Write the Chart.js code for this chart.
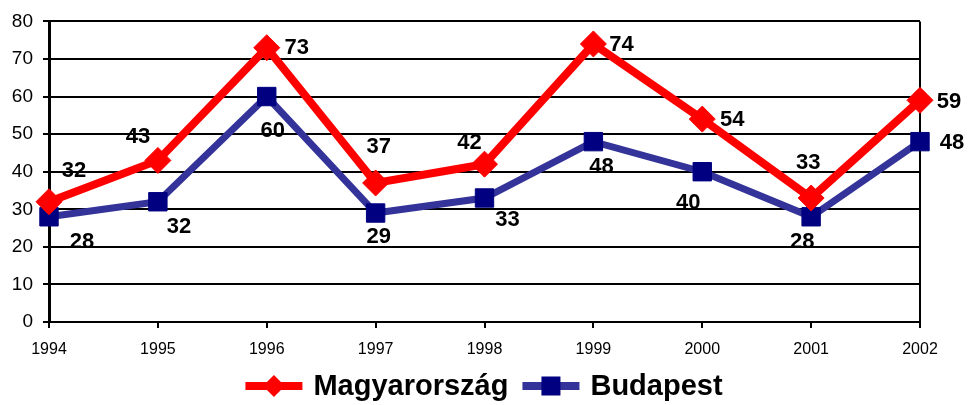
<!DOCTYPE html>
<html>
<head>
<meta charset="utf-8">
<script src="https://cdn.jsdelivr.net/npm/chart.js@4.4.1/dist/chart.umd.min.js"></script>
<style>
  html, body { margin: 0; padding: 0; background: #fff; }
  #wrap { width: 968px; height: 405px; position: relative; }
</style>
</head>
<body>
<div id="wrap"><canvas id="chart" width="968" height="405"></canvas></div>
<script>
"use strict";

const years = ["1994", "1995", "1996", "1997", "1998", "1999", "2000", "2001", "2002"];
const magyarorszag = [32, 43, 73, 37, 42, 74, 54, 33, 59];
const budapest = [28, 32, 60, 29, 33, 48, 40, 28, 48];
const yTicks = [0, 10, 20, 30, 40, 50, 60, 70, 80];

// where each value label sits relative to its point (layout only)
const huLabelOffsets = [[25, -32], [-20, -24], [30, -1], [3, -37], [-15, -22], [28, 0], [30, 0], [-3, -36], [29, 1]];
const bpLabelOffsets = [[33, 24], [21, 24], [6, 33], [3, 23], [23, 21], [8, 24], [-14, 30], [-9, 24], [32, 0]];

const FONT = "Arial, 'Liberation Sans', sans-serif";
let canvasElem = document.getElementById("chart");

const valueLabels = {
  id: "valueLabels",
  afterDatasetsDraw(chart) {
    const ctx = chart.ctx;
    ctx.save();
    ctx.font = "bold 22px " + FONT;
    ctx.fillStyle = "#000";
    ctx.textAlign = "center";
    ctx.textBaseline = "middle";
    chart.data.datasets.forEach((ds, di) => {
      const offs = di === 0 ? huLabelOffsets : bpLabelOffsets;
      chart.getDatasetMeta(di).data.forEach((pt, i) => {
        ctx.fillText(String(ds.data[i]), pt.x + offs[i][0], pt.y + offs[i][1] + 1);
      });
    });
    ctx.restore();
  }
};

const bottomLegend = {
  id: "bottomLegend",
  afterDraw(chart) {
    const ctx = chart.ctx;
    const y = 386;
    ctx.save();
    ctx.font = "bold 29px " + FONT;
    ctx.textBaseline = "middle";
    ctx.textAlign = "left";
    const items = [
      { text: "Magyarország", line: "#ff0000", fill: "#ff0000", shape: "diamond" },
      { text: "Budapest", line: "#333399", fill: "#000080", shape: "square" }
    ];
    const gap = 14;
    const widths = items.map(it => 57 + 11 + ctx.measureText(it.text).width);
    const total = widths.reduce((a, b) => a + b, 0) + gap;
    let x = (chart.width - total) / 2;
    items.forEach((it, k) => {
      ctx.strokeStyle = it.line;
      ctx.lineWidth = 8;
      ctx.beginPath();
      ctx.moveTo(x, y);
      ctx.lineTo(x + 57, y);
      ctx.stroke();
      const cx = x + 28.5;
      ctx.fillStyle = it.fill;
      ctx.beginPath();
      if (it.shape === "diamond") {
        ctx.moveTo(cx, y - 11);
        ctx.lineTo(cx + 11, y);
        ctx.lineTo(cx, y + 11);
        ctx.lineTo(cx - 11, y);
        ctx.closePath();
      } else {
        ctx.rect(cx - 9.5, y - 9.5, 19, 19);
      }
      ctx.fill();
      ctx.fillStyle = "#000";
      ctx.fillText(it.text, x + 68, y + 1);
      x += widths[k] + gap;
    });
    ctx.restore();
  }
};

function renderChart() {
  let chartObj = {
    type: "line",
    data: {
      labels: years,
      datasets: [
        {
          label: "Magyarország",
          data: magyarorszag,
          borderColor: "#ff0000",
          backgroundColor: "#ff0000",
          borderWidth: 8,
          pointStyle: "rectRot",
          pointRadius: 13,
          pointBorderWidth: 1,
          pointBorderColor: "#ff0000",
          pointBackgroundColor: "#ff0000",
          tension: 0
        },
        {
          label: "Budapest",
          data: budapest,
          borderColor: "#333399",
          backgroundColor: "#000080",
          borderWidth: 7,
          pointStyle: "rect",
          pointRadius: 13,
          pointBorderWidth: 1,
          pointBorderColor: "#000080",
          pointBackgroundColor: "#000080",
          tension: 0
        }
      ]
    },
    options: {
      responsive: false,
      animation: false,
      layout: { padding: { left: 0, right: 48, top: 21, bottom: 0 } },
      scales: {
        y: {
          min: 0,
          max: 80,
          afterFit: s => { s.width = 49; },
          afterBuildTicks: s => { s.ticks = yTicks.map(v => ({ value: v })); },
          border: { color: "#000", width: 3 },
          grid: { color: "#000", lineWidth: 2, tickLength: 6, tickColor: "#000" },
          ticks: { color: "#000", padding: 10, font: { family: FONT, size: 19 } }
        },
        x: {
          offset: false,
          afterFit: s => { s.height = 83; },
          border: { color: "#000", width: 2 },
          grid: {
            color: c => (c.index === years.length - 1 ? "#000" : "rgba(0,0,0,0)"),
            lineWidth: 2,
            tickLength: 6,
            tickColor: "#000"
          },
          ticks: { color: "#000", padding: 12, maxRotation: 0, font: { family: FONT, size: 16 } }
        }
      },
      plugins: {
        legend: { display: false },
        tooltip: { enabled: false }
      }
    },
    plugins: [valueLabels, bottomLegend]
  };
  new Chart(canvasElem, chartObj);
}

renderChart();
</script>
</body>
</html>
